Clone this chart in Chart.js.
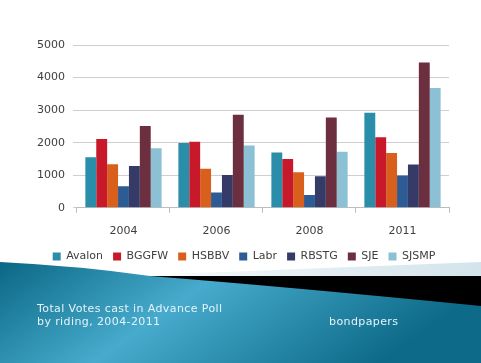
<!DOCTYPE html>
<html>
<head>
<meta charset="utf-8">
<script src="https://cdn.jsdelivr.net/npm/chart.js@4.4.1/dist/chart.umd.min.js"></script>
<style>
  html,body{margin:0;padding:0;background:#fff;}
  #wrap{position:relative;width:481px;height:363px;overflow:hidden;font-family:"DejaVu Sans",sans-serif;}
  #deco{position:absolute;left:0;top:0;}
  #chartBox{position:absolute;left:0;top:0;width:481px;height:363px;}
  .cap{position:absolute;color:#e6f3f8;font-size:11px;line-height:12.5px;letter-spacing:0.4px;white-space:nowrap;}
</style>
</head>
<body>
<div id="wrap">
  <svg id="deco" width="481" height="363">
    <defs>
      <linearGradient id="pale" x1="0" y1="0" x2="1" y2="0">
        <stop offset="0" stop-color="#ffffff"/>
        <stop offset="0.45" stop-color="#e6f0f4"/>
        <stop offset="1" stop-color="#d3e4ec"/>
      </linearGradient>
      <linearGradient id="teal" x1="0" y1="0" x2="1" y2="0.3">
        <stop offset="0" stop-color="#0b6784"/>
        <stop offset="0.45" stop-color="#47abcd"/>
        <stop offset="1" stop-color="#0d6a88"/>
      </linearGradient>
    </defs>
    <polygon points="120,276 481,262 481,277" fill="url(#pale)"/>
    <path d="M0,262 Q80,266 150,276 L481,276 L481,363 L0,363 Z" fill="url(#teal)"/>
    <path d="M150,276 L481,276 L481,306 Q300,288 150,276 Z" fill="#000"/>
  </svg>
  <div id="chartBox"><canvas id="c"></canvas></div>
  <div class="cap" style="left:37px;top:303px;">Total Votes cast in Advance Poll<br>by riding, 2004-2011</div>
  <div class="cap" style="left:329px;top:315.5px;">bondpapers</div>
</div>
<script>
const categories = ['2004', '2006', '2008', '2011'];
const avalon = [1550, 1990, 1700, 2920];
const bggfw  = [2110, 2030, 1500, 2170];
const hsbbv  = [1340, 1200, 1090, 1680];
const labr   = [660, 470, 390, 990];
const rbstg  = [1280, 1010, 970, 1330];
const sje    = [2510, 2860, 2770, 4460];
const sjsmp  = [1830, 1910, 1720, 3680];
const yTicks = [0, 1000, 2000, 3000, 4000, 5000];

function ds(label, data, color) {
  return {label: label, data: data, backgroundColor: color, borderWidth: 0,
          barPercentage: 1.0, categoryPercentage: 0.82};
}

// pull the legend a bit closer to the axis labels
const legendNudge = {
  id: 'legendNudge',
  afterLayout(chart) {
    const lg = chart.legend;
    lg.top -= 9;
    lg.bottom -= 9;
    lg.left += 5;
    lg.right += 5;
  }
};

const font = {family: '"DejaVu Sans", sans-serif', size: 11};
const chart = new Chart(document.getElementById('c'), {
  type: 'bar',
  data: {
    labels: categories,
    datasets: [
      ds('Avalon', avalon, '#2a8daa'),
      ds('BGGFW', bggfw, '#c8192a'),
      ds('HSBBV', hsbbv, '#d8601c'),
      ds('Labr', labr, '#2d5b94'),
      ds('RBSTG', rbstg, '#363a66'),
      ds('SJE', sje, '#6c2f3f'),
      ds('SJSMP', sjsmp, '#8bc0d5')
    ]
  },
  plugins: [legendNudge],
  options: {
    responsive: true,
    maintainAspectRatio: false,
    animation: false,
    devicePixelRatio: 1,
    layout: {padding: {left: 29, right: 32, top: 45, bottom: 82}},
    plugins: {
      tooltip: {enabled: false},
      legend: {
        position: 'bottom',
        labels: {font: font, color: '#404040', boxWidth: 8, boxHeight: 8, padding: 10}
      }
    },
    scales: {
      x: {
        grid: {display: true, drawOnChartArea: false, offset: true, tickLength: 5, color: '#bdbdbd'},
        border: {display: true, color: '#bdbdbd'},
        ticks: {font: font, color: '#404040', padding: 12}
      },
      y: {
        min: 0, max: 5000,
        afterBuildTicks: s => { s.ticks = yTicks.map(v => ({value: v})); },
        grid: {color: '#cfcfcf', tickLength: 4},
        border: {display: false},
        ticks: {font: font, color: '#404040', padding: 8, callback: v => String(v)}
      }
    }
  }
});
</script>
</body>
</html>
